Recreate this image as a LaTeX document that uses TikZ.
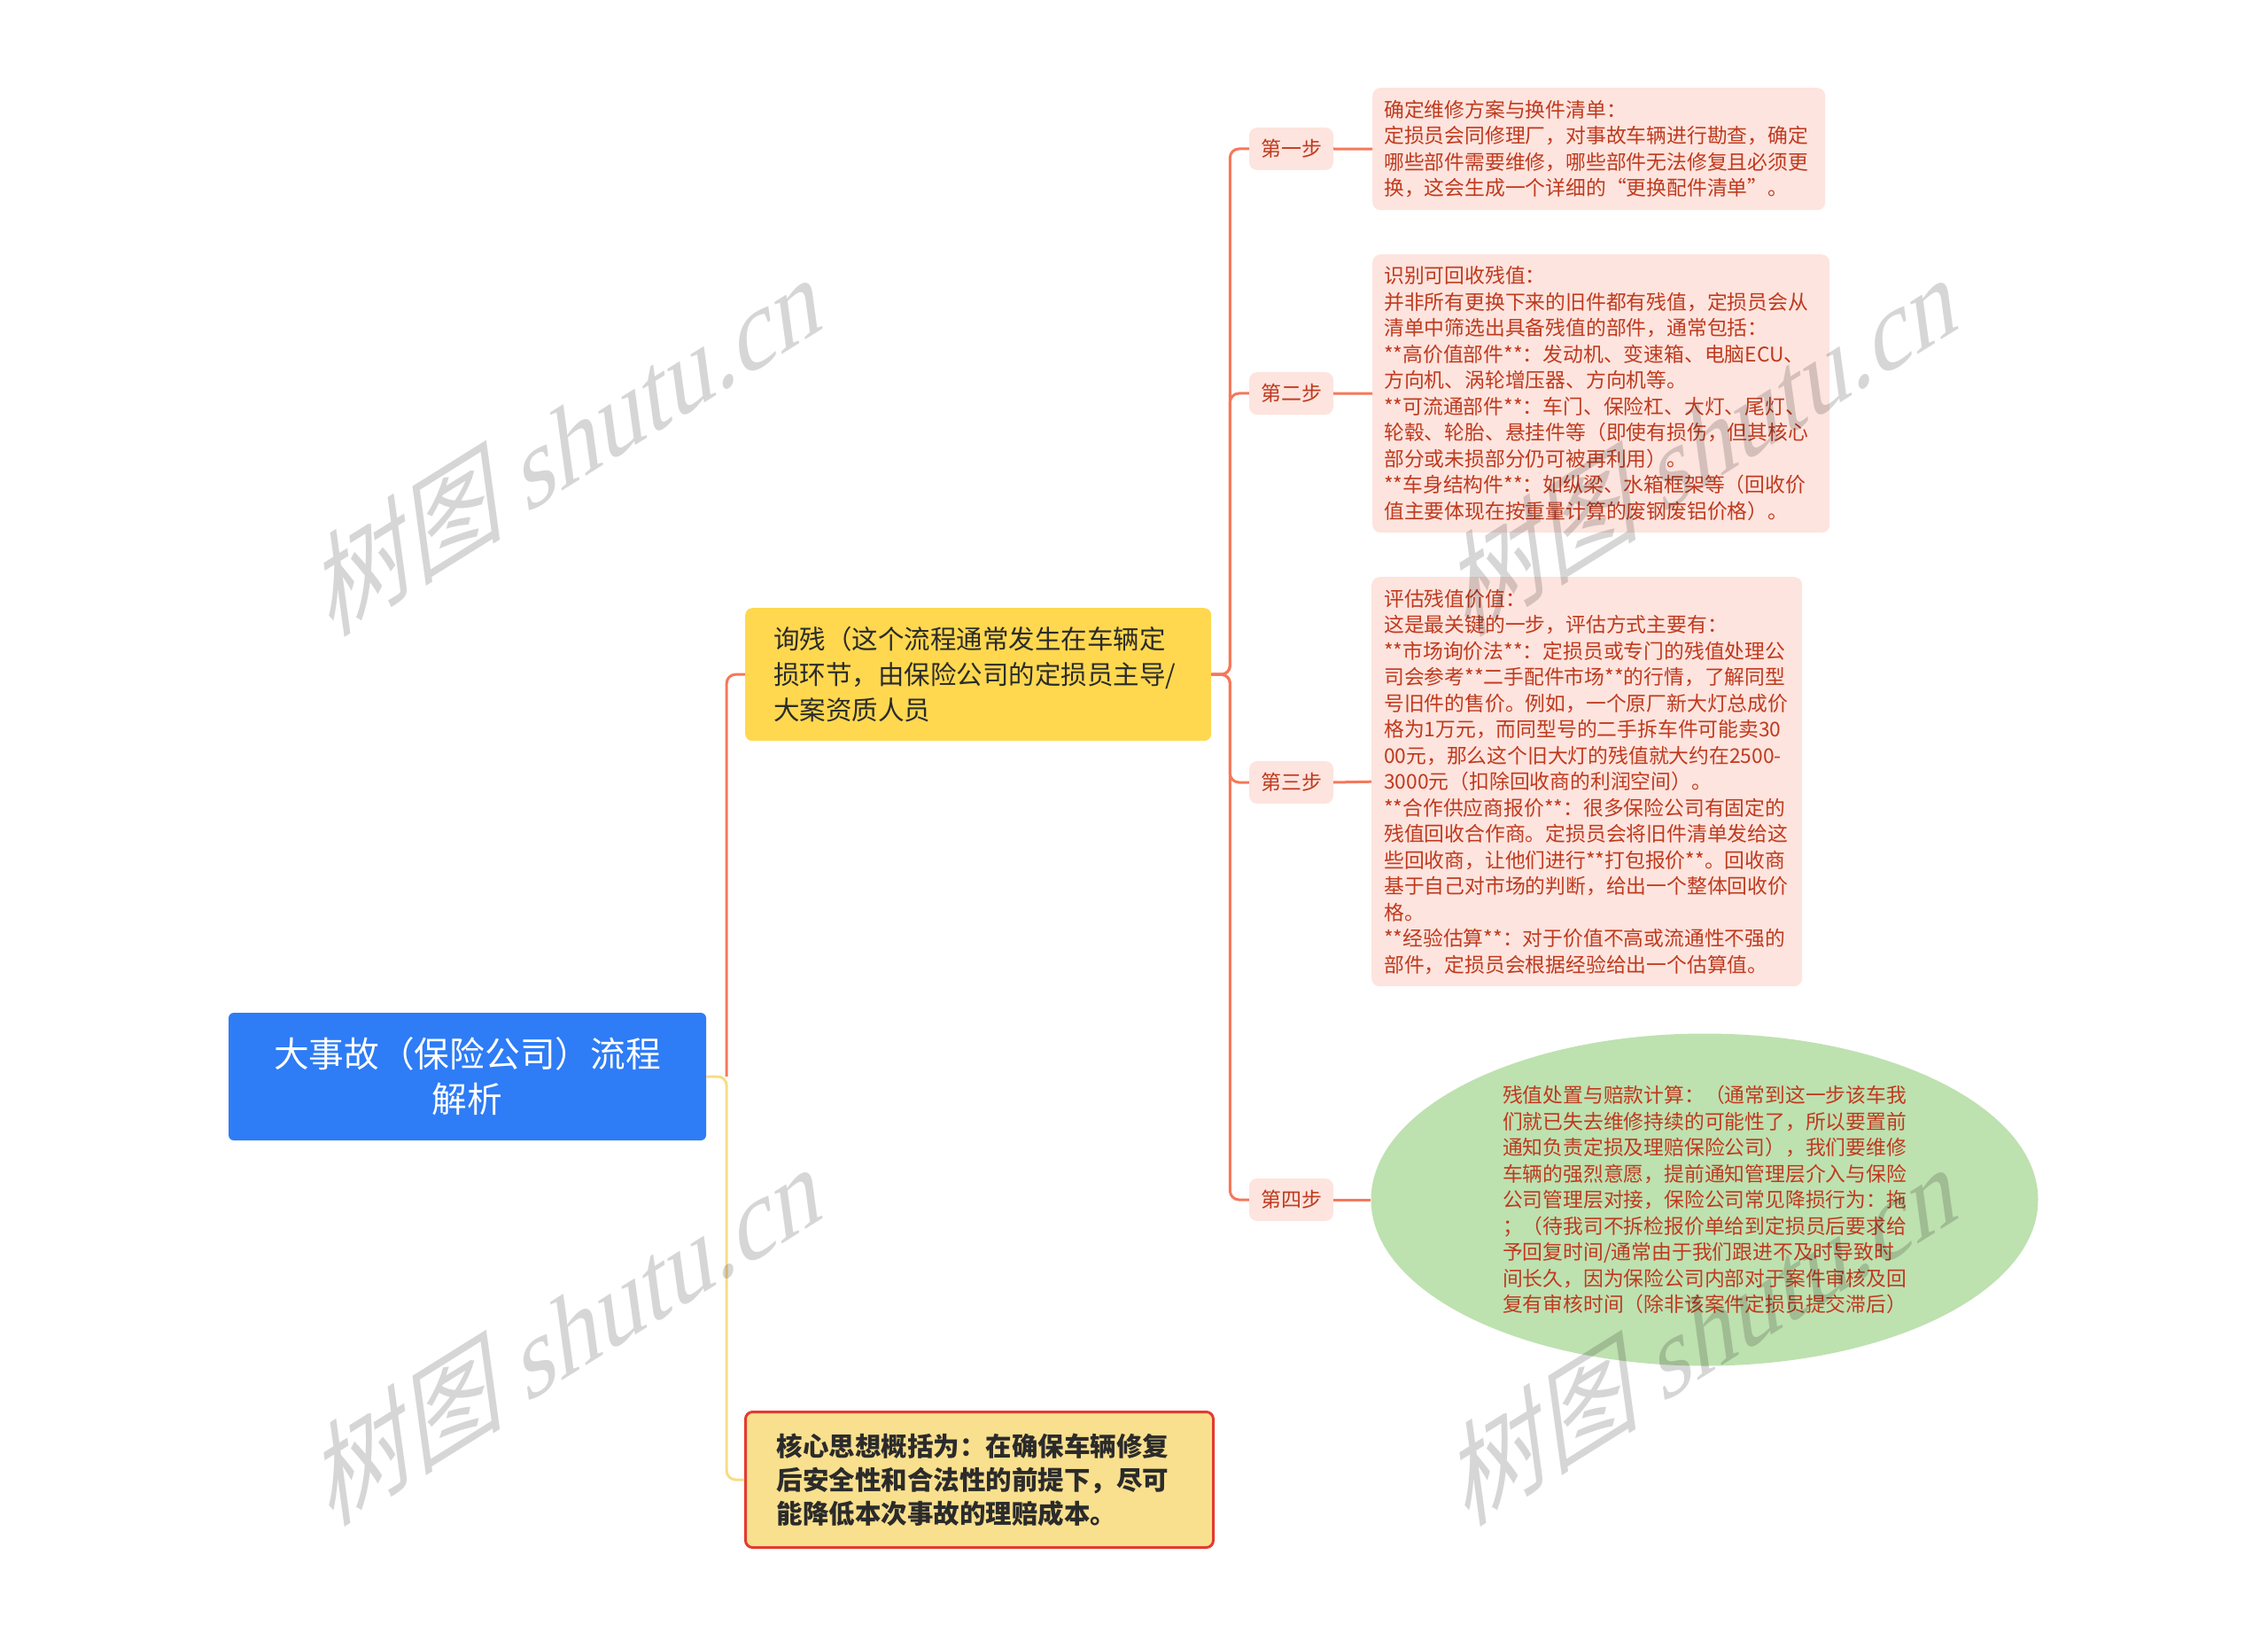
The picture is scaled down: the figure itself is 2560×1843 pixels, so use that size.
\documentclass[tikz,border=0pt]{standalone}
\usepackage{fontspec}
\setmainfont{Noto Sans CJK SC}
\newfontfamily\wmlatin{Liberation Serif}
\usetikzlibrary{shapes.geometric}
\definecolor{rootblue}{HTML}{2E7CF6}
\definecolor{askyellow}{HTML}{FFD84F}
\definecolor{corefill}{HTML}{F9E08E}
\definecolor{corered}{HTML}{E33B30}
\definecolor{pinkfill}{HTML}{FDE4DE}
\definecolor{redtext}{HTML}{BF3A1F}
\definecolor{greenfill}{HTML}{BEE1B0}
\definecolor{linered}{HTML}{F5785A}
\definecolor{lineyellow}{HTML}{F8DC86}
\definecolor{darktext}{HTML}{2B2B2B}
\tikzset{
  pinkbox/.style={fill=pinkfill, text=redtext, rounded corners=9, align=left,
    inner xsep=13, inner ysep=0, anchor=north west,
    font=\fontsize{22.8}{29.5}\selectfont},
  steplabel/.style={fill=pinkfill, text=redtext, rounded corners=9,
    minimum width=95, minimum height=48, inner sep=0,
    font=\fontsize{23}{28}\selectfont},
  rline/.style={draw=linered, line width=3, rounded corners=10},
  yline/.style={draw=lineyellow, line width=3, rounded corners=10},
  wm/.style={text=black, text opacity=0.16, inner sep=0,
    font=\fontsize{118}{118}\selectfont},
}
\begin{document}
\begin{tikzpicture}[x=1pt,y=-1pt]
\useasboundingbox (0,0) rectangle (2560,1843);

% root
\node[fill=rootblue, text=white, rounded corners=6, minimum width=539,
  minimum height=144, inner sep=0, align=center,
  font=\fontsize{39.7}{51}\selectfont] (root) at (527.5,1215)
  {大事故（保险公司）流程\\解析};

% level 1
\node[fill=askyellow, text=darktext, rounded corners=8, anchor=north west,
  text width=462, inner xsep=32, inner ysep=0, minimum height=150, align=left,
  font=\fontsize{29.5}{40}\selectfont] (ask) at (841,686)
  {询残（这个流程通常发生在车辆定\\损环节，由保险公司的定损员主导/\\大案资质人员};

\node[fill=corefill, draw=corered, line width=3, rounded corners=8,
  anchor=north west, text width=458, inner xsep=35, inner ysep=0,
  minimum height=153, align=left, text=darktext,
  font=\fontsize{29.5}{38}\selectfont\bfseries] (core) at (840,1592)
  {核心思想概括为：在确保车辆修复\\后安全性和合法性的前提下，尽可\\能降低本次事故的理赔成本。};

% steps
\node[steplabel] (s1) at (1457.5,168) {第一步};
\node[steplabel] (s2) at (1457.5,444) {第二步};
\node[steplabel] (s3) at (1457.5,883) {第三步};
\node[steplabel] (s4) at (1457.5,1354) {第四步};

% contents
\node[pinkbox, text width=485, minimum height=138] (b1) at (1549,99)
  {确定维修方案与换件清单：\\
   定损员会同修理厂，对事故车辆进行勘查，确定\\
   哪些部件需要维修，哪些部件无法修复且必须更\\
   换，这会生成一个详细的“更换配件清单”。};

\node[pinkbox, text width=490, minimum height=314] (b2) at (1549,287)
  {识别可回收残值：\\
   并非所有更换下来的旧件都有残值，定损员会从\\
   清单中筛选出具备残值的部件，通常包括：\\
   {**}高价值部件**：发动机、变速箱、电脑ECU、\\
   方向机、涡轮增压器、方向机等。\\
   {**}可流通部件**：车门、保险杠、大灯、尾灯、\\
   轮毂、轮胎、悬挂件等（即使有损伤，但其核心\\
   部分或未损部分仍可被再利用）。\\
   {**}车身结构件**：如纵梁、水箱框架等（回收价\\
   值主要体现在按重量计算的废钢废铝价格）。};

\node[pinkbox, text width=458, inner xsep=14, minimum height=462] (b3) at (1548,651)
  {评估残值价值：\\
   这是最关键的一步，评估方式主要有：\\
   {**}市场询价法**：定损员或专门的残值处理公\\
   司会参考**二手配件市场**的行情，了解同型\\
   号旧件的售价。例如，一个原厂新大灯总成价\\
   格为1万元，而同型号的二手拆车件可能卖30\\
   00元，那么这个旧大灯的残值就大约在2500-\\
   3000元（扣除回收商的利润空间）。\\
   {**}合作供应商报价**：很多保险公司有固定的\\
   残值回收合作商。定损员会将旧件清单发给这\\
   些回收商，让他们进行**打包报价**。回收商\\
   基于自己对市场的判断，给出一个整体回收价\\
   格。\\
   {**}经验估算**：对于价值不高或流通性不强的\\
   部件，定损员会根据经验给出一个估算值。};

\node[ellipse, fill=greenfill, text=redtext, minimum width=753,
  minimum height=375, inner sep=0, align=left,
  font=\fontsize{22.8}{29.5}\selectfont] (b4) at (1924,1354)
  {残值处置与赔款计算：（通常到这一步该车我\\
   们就已失去维修持续的可能性了，所以要置前\\
   通知负责定损及理赔保险公司），我们要维修\\
   车辆的强烈意愿，提前通知管理层介入与保险\\
   公司管理层对接，保险公司常见降损行为：拖\\
   ；（待我司不拆检报价单给到定损员后要求给\\
   予回复时间/通常由于我们跟进不及时导致时\\
   间长久，因为保险公司内部对于案件审核及回\\
   复有审核时间（除非该案件定损员提交滞后）};

% connectors
\draw[yline] (root.east) -- ++(23,0) |- (core.west);
\draw[rline] (root.east) ++(23,0) |- (ask.west);
\draw[rline] (ask.east) -- ++(21,0) |- (s1.west);
\draw[rline] (ask.east) -- ++(21,0) |- (s2.west);
\draw[rline] (ask.east) -- ++(21,0) |- (s3.west);
\draw[rline] (ask.east) -- ++(21,0) |- (s4.west);
\draw[rline] (s1.east) -- (b1.west);
\draw[rline] (s2.east) -- (b2.west);
\draw[rline] (s3.east) -- (b3.west);
\draw[rline] (s4.east) -- (b4.west);

% watermarks
\begin{scope}[shift={(644,496)}]
  \node[wm, rotate=32, xslant=0.45, transform shape] (w1) at (0,0) {树图 {\wmlatin shutu.cn}};
\end{scope}
\begin{scope}[shift={(1926,496)}]
  \node[wm, rotate=32, xslant=0.45, transform shape] (w2) at (0,0) {树图 {\wmlatin shutu.cn}};
\end{scope}
\begin{scope}[shift={(644,1500)}]
  \node[wm, rotate=32, xslant=0.45, transform shape] (w3) at (0,0) {树图 {\wmlatin shutu.cn}};
\end{scope}
\begin{scope}[shift={(1926,1500)}]
  \node[wm, rotate=32, xslant=0.45, transform shape] (w4) at (0,0) {树图 {\wmlatin shutu.cn}};
\end{scope}
\end{tikzpicture}
\end{document}
